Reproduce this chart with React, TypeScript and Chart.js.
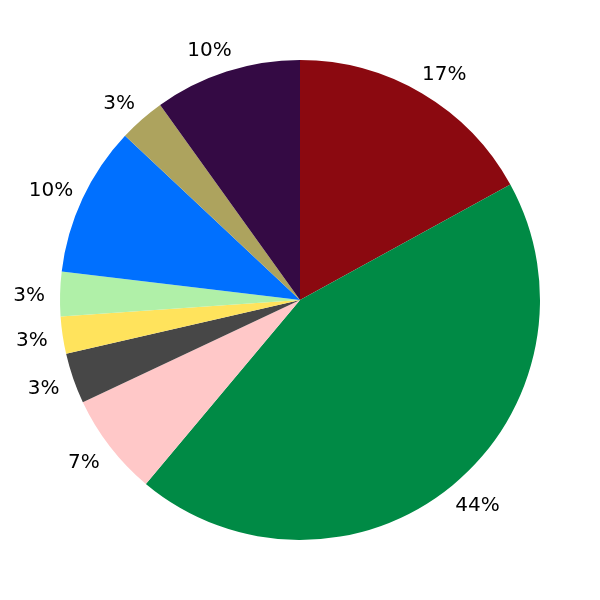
import { useEffect, useRef } from 'react';
import { Chart, ChartOptions, Plugin, registerables } from 'chart.js';

Chart.register(...registerables);

const sliceValues = [17.0, 44.1, 6.9, 3.4, 2.5, 3.0, 10.1, 3.1, 9.9];
const sliceColors = [
  '#8b0910',
  '#008a45',
  '#ffc8c8',
  '#474747',
  '#ffe35c',
  '#b0f0a8',
  '#0070ff',
  '#ada35e',
  '#340a44',
];

// percentage labels outside each slice
const outsideLabels: Plugin<'pie'> = {
  id: 'outsideLabels',
  afterDatasetsDraw(chart) {
    const { ctx } = chart;
    const meta = chart.getDatasetMeta(0);
    const total = sliceValues.reduce((a, b) => a + b, 0);
    const fontSize = 20;
    ctx.save();
    ctx.font = fontSize + 'px "DejaVu Sans"';
    ctx.fillStyle = '#000';
    ctx.textAlign = 'center';
    ctx.textBaseline = 'alphabetic';
    meta.data.forEach((el: any, i) => {
      const text = Math.round((sliceValues[i] / total) * 100) + '%';
      const w = ctx.measureText(text).width;
      const mid = (el.startAngle + el.endAngle) / 2;
      const r = el.outerRadius * 1.1;
      const cos = Math.cos(mid);
      const x = el.x + cos * r + Math.sign(cos) * w * 0.22;
      const y = el.y + Math.sin(mid) * r;
      // put the digits' visual centre on y
      ctx.fillText(text, x, y + fontSize * 0.365);
    });
    ctx.restore();
  },
};

const App = () => {
  const chartRef = useRef<HTMLCanvasElement | null>(null);

  useEffect(() => {
    if (!chartRef.current) return;
    const ctx = chartRef.current.getContext('2d');
    if (!ctx) return;

    const options: ChartOptions<'pie'> = {
      responsive: false,
      animation: false,
      layout: { padding: 60 },
      plugins: {
        legend: { display: false },
        tooltip: { enabled: false },
      },
    };

    const chart = new Chart(ctx, {
      type: 'pie',
      data: {
        labels: sliceValues.map((_, i) => 'Slice ' + (i + 1)),
        datasets: [
          {
            data: sliceValues,
            backgroundColor: sliceColors,
            borderWidth: 0,
          },
        ],
      },
      options,
      plugins: [outsideLabels],
    });

    return () => chart.destroy();
  }, []);

  return (
    <div style={{ position: 'absolute', left: 0, top: 0, width: 600, height: 600, background: '#fff' }}>
      <canvas ref={chartRef} width={600} height={600} />
    </div>
  );
};

export default App;
